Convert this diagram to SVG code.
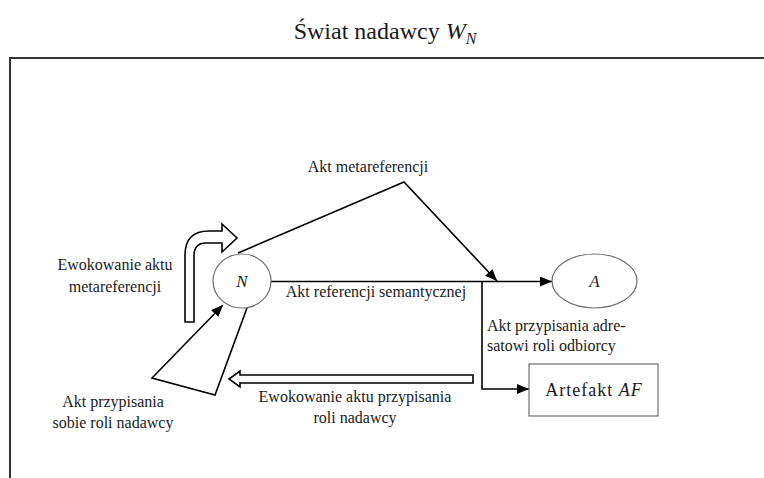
<svg xmlns="http://www.w3.org/2000/svg" width="764" height="478" viewBox="0 0 764 478">
<style>
  text { font-family: "Liberation Serif", "Times New Roman", serif; fill: #1a1a1a; }
  .lbl { font-size: 16px; }
  .mid { text-anchor: middle; }
  .it { font-style: italic; }
  .ln { fill: none; stroke: #000; stroke-width: 1.6; }
  .nodeshape { fill: #fff; stroke: #6e6e6e; stroke-width: 1.2; }
  .hollow { fill: #fff; stroke: #000; stroke-width: 1.6; stroke-linejoin: miter; }
</style>
<defs>
  <marker id="ah" markerWidth="12" markerHeight="10" refX="12" refY="5" orient="auto" markerUnits="userSpaceOnUse">
    <path d="M0,0 L12,5 L0,10 Z" fill="#000"/>
  </marker>
</defs>
<rect width="764" height="478" fill="#fff"/>

<g id="title">
  <text x="385" y="39" class="mid" font-size="24">Świat nadawcy <tspan class="it">W</tspan><tspan class="it" font-size="16" dy="5">N</tspan></text>
</g>

<g id="frame">
  <path d="M10,478 L10,58 L764,58" fill="none" stroke="#333" stroke-width="2"/>
</g>

<g id="connectors">
  <!-- Akt metareferencji -->
  <polyline class="ln" points="238,253 404,182 497,281" marker-end="url(#ah)"/>
  <!-- Akt referencji semantycznej -->
  <line class="ln" x1="271" y1="281.5" x2="552" y2="281.5" marker-end="url(#ah)"/>
  <!-- branch to Artefakt -->
  <polyline class="ln" points="482,281.5 482,389 529,389" marker-end="url(#ah)"/>
  <!-- Akt przypisania sobie roli nadawcy -->
  <polyline class="ln" points="247,308 215,395 152,378 223,305" marker-end="url(#ah)"/>
  <!-- Ewokowanie aktu metareferencji (hollow bent arrow) -->
  <path class="hollow" d="M185,322 L185,255 Q185,231 209,231 L222,231 L222,224 L237,238 L222,252 L222,243 L206,243 Q194,243 194,256 L194,322 Z"/>
  <!-- Ewokowanie aktu przypisania roli nadawcy (hollow left arrow) -->
  <path class="hollow" d="M473,375 L473,383 L240,383 L240,387 L229,379 L240,371 L240,375 Z"/>
</g>

<g id="node-N">
  <ellipse class="nodeshape" cx="242" cy="281" rx="29" ry="27"/>
  <text x="242" y="287" class="mid it" font-size="17">N</text>
</g>

<g id="node-A">
  <ellipse class="nodeshape" cx="594.5" cy="281" rx="42.5" ry="27"/>
  <text x="594.5" y="287" class="mid it" font-size="17">A</text>
</g>

<g id="node-AF">
  <rect class="nodeshape" x="529" y="364" width="129" height="52"/>
  <text x="594" y="396" class="mid" font-size="18" letter-spacing="1">Artefakt <tspan class="it">AF</tspan></text>
</g>

<g id="labels">
  <text x="368" y="172" class="lbl mid">Akt metareferencji</text>
  <text x="376" y="297" class="lbl mid">Akt referencji semantycznej</text>
  <text x="487" y="331" class="lbl">Akt przypisania adre-</text>
  <text x="487" y="351" class="lbl">satowi roli odbiorcy</text>
  <text x="115" y="270" class="lbl mid">Ewokowanie aktu</text>
  <text x="115" y="292" class="lbl mid">metareferencji</text>
  <text x="113" y="407" class="lbl mid">Akt przypisania</text>
  <text x="113" y="428" class="lbl mid">sobie roli nadawcy</text>
  <text x="355" y="402" class="lbl mid">Ewokowanie aktu przypisania</text>
  <text x="355" y="423" class="lbl mid">roli nadawcy</text>
</g>
</svg>
